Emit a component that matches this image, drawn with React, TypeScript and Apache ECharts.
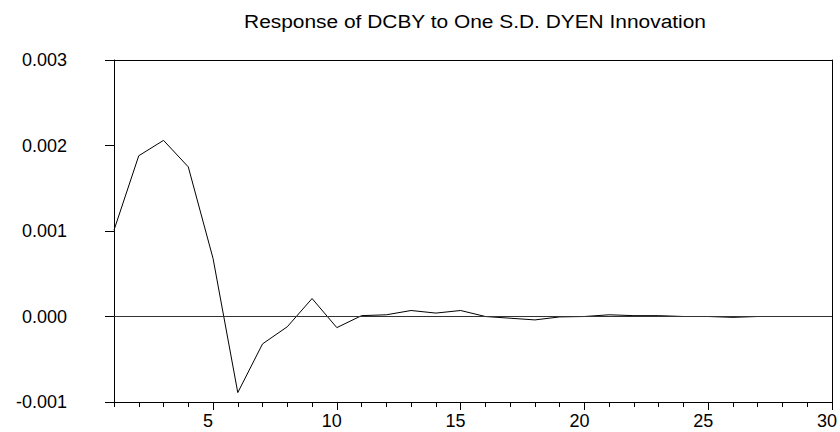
import React, { useEffect, useRef } from "react";
import * as echarts from "echarts";

const periods: string[] = Array.from({ length: 30 }, (_, i) => String(i + 1));
const response: number[] = [
  0.00101, 0.00188, 0.00206, 0.00175, 0.00068, -0.00089, -0.00032, -0.00012, 0.00021, -0.00013,
  0.00001, 0.00002, 0.00007, 0.00004, 0.00007, 0.0, -0.00002, -0.00004, -0.000005, 0.0,
  0.00002, 0.00001, 0.00001, 0.0, 0.0, -0.00001, 0.0, 0.0, 0.0, 0.0,
];
const majorPeriods: string[] = ["5", "10", "15", "20", "25", "30"];
const yTicks = { min: -0.001, max: 0.003, step: 0.001 };
const title = "Response of DCBY to One S.D. DYEN Innovation";

const FONT = "'Liberation Sans', Arial, sans-serif";

export default function App() {
  const ref = useRef<HTMLDivElement>(null);
  useEffect(() => {
    if (!ref.current) return;
    const chart = echarts.init(ref.current, null, { renderer: "svg" });
    const isMajor = (idx: number) => majorPeriods.includes(periods[idx]);
    chart.setOption({
      animation: false,
      backgroundColor: "#ffffff",
      graphic: [
        {
          type: "text",
          x: 475,
          y: 21,
          scaleX: 1.1,
          style: {
            text: title,
            fontFamily: FONT,
            fontSize: 19,
            fill: "#000",
            align: "center",
            verticalAlign: "middle",
          },
        },
      ],
      grid: {
        left: 114,
        right: 4,
        top: 60,
        bottom: 30,
        show: false,
      },
      xAxis: [
        {
          type: "category",
          data: periods,
          boundaryGap: false,
          position: "bottom",
          axisLine: { show: true, onZero: false, lineStyle: { color: "#000", width: 1 } },
          axisTick: { show: true, interval: 0, length: 5, lineStyle: { color: "#000", width: 1 } },
          axisLabel: { show: false },
          splitLine: { show: false },
        },
        {
          type: "category",
          data: periods,
          boundaryGap: false,
          position: "bottom",
          axisLine: { show: true, onZero: false, lineStyle: { color: "#000" } },
          axisTick: {
            show: true,
            interval: (idx: number) => isMajor(idx),
            length: 8,
            lineStyle: { color: "#000", width: 1 },
          },
          axisLabel: {
            interval: (idx: number) => isMajor(idx),
            fontFamily: FONT,
            fontSize: 18,
            color: "#000",
            margin: 10,
            padding: [0, 10, 0, 0],
          },
          splitLine: { show: false },
        },
        {
          type: "category",
          data: periods,
          boundaryGap: false,
          position: "top",
          axisLine: { show: true, onZero: false, lineStyle: { color: "#000" } },
          axisTick: { show: false },
          axisLabel: { show: false },
          splitLine: { show: false },
        },
      ],
      yAxis: [
        {
          type: "value",
          min: yTicks.min,
          max: yTicks.max,
          interval: yTicks.step,
          position: "left",
          axisLine: { show: true, onZero: false, lineStyle: { color: "#000", width: 1 } },
          axisTick: { show: true, length: 9, lineStyle: { color: "#000" } },
          axisLabel: {
            fontFamily: FONT,
            fontSize: 18,
            color: "#000",
            margin: 47,
            formatter: (v: number) => v.toFixed(3),
          },
          splitLine: { show: false },
        },
        {
          type: "value",
          min: yTicks.min,
          max: yTicks.max,
          interval: yTicks.step,
          position: "right",
          axisLine: { show: true, onZero: false, lineStyle: { color: "#000", width: 1 } },
          axisTick: { show: false },
          axisLabel: { show: false },
          splitLine: { show: false },
        },
      ],
      series: [
        {
          type: "line",
          xAxisIndex: 0,
          yAxisIndex: 0,
          data: response,
          symbol: "none",
          lineStyle: { color: "#000", width: 1 },
          markLine: {
            silent: true,
            symbol: ["none", "none"],
            label: { show: false },
            lineStyle: { color: "#333", width: 1, type: "solid" },
            data: [{ yAxis: 0 }],
          },
        },
      ],
    });
    return () => chart.dispose();
  }, []);
  return <div ref={ref} style={{ width: 840, height: 432, position: "absolute", left: 0, top: 0 }} />;
}
